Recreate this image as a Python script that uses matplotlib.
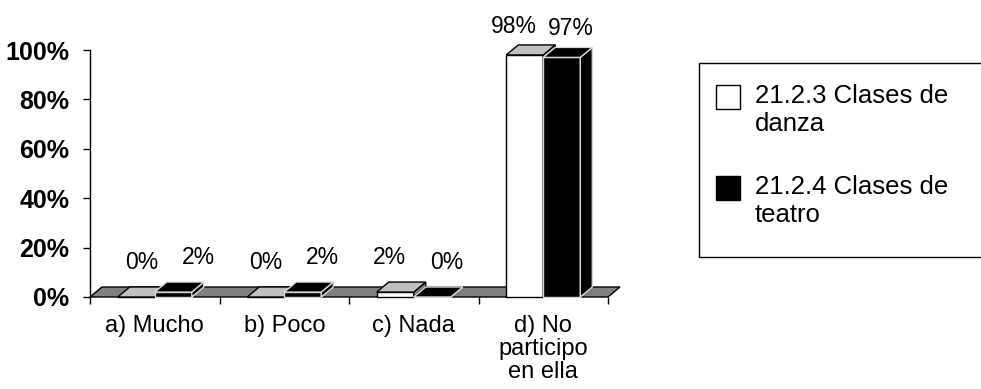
import numpy as np
import matplotlib.pyplot as plt
from matplotlib.patches import Polygon, Rectangle

# datos
categorias = ['a) Mucho', 'b) Poco', 'c) Nada', 'd) No\nparticipo\nen ella']
danza = [0, 0, 2, 98]
teatro = [2, 2, 0, 97]
series = ['21.2.3 Clases de\ndanza', '21.2.4 Clases de\nteatro']
yticks = [0, 20, 40, 60, 80, 100]

plt.rcParams['font.family'] = ['Liberation Sans', 'DejaVu Sans']

W, H = 981, 389
fig = plt.figure(figsize=(W / 100, H / 100), dpi=100)
ax = fig.add_axes([90 / W, 92 / H, 518 / W, 247 / H])
n = len(categorias)
ax.set_xlim(-0.5, n - 0.5)
ax.set_ylim(0, 100)

# profundidad del efecto 3d (en unidades de datos)
dx = 12 / 129.5
dy = 10 / 247 * 100
w = 0.286

# suelo gris
suelo = Polygon([(-0.5, 0), (n - 0.5, 0), (n - 0.5 + dx, dy), (-0.5 + dx, dy)],
                closed=True, fc='#808080', ec='black', lw=1, clip_on=False, zorder=1)
ax.add_patch(suelo)

estilos = [
    dict(vals=danza, off=-w / 2, front='white', top='#c0c0c0', side='#808080', edge='black'),
    dict(vals=teatro, off=w / 2, front='black', top='black', side='black', edge='#d8d8d8'),
]

x = np.arange(n)
z = 2
for i in range(n):
    for s in estilos:
        h = s['vals'][i]
        x0 = x[i] + s['off'] - w / 2
        ax.bar(x[i] + s['off'], h, width=w, color=s['front'], edgecolor=s['edge'],
               lw=1, clip_on=False, zorder=z)
        top = Polygon([(x0, h), (x0 + w, h), (x0 + w + dx, h + dy), (x0 + dx, h + dy)],
                      closed=True, fc=s['top'], ec=s['edge'], lw=1, clip_on=False, zorder=z)
        side = Polygon([(x0 + w, 0), (x0 + w, h), (x0 + w + dx, h + dy), (x0 + w + dx, dy)],
                       closed=True, fc=s['side'], ec=s['edge'], lw=1, clip_on=False, zorder=z)
        ax.add_patch(side)
        ax.add_patch(top)
        z += 1

# etiquetas de valor (excel las separa un poco por la perspectiva)
for i in range(n):
    for k, s in enumerate(estilos):
        h = s['vals'][i]
        lx = 0.12 + 0.958 * i + (-0.22 if k == 0 else 0.22)
        ax.annotate(f'{h}%', (lx, h), xytext=(0, 28 - 6 * h / 100),
                    textcoords='offset pixels', ha='center', va='baseline',
                    fontsize=16.5, annotation_clip=False, zorder=50)

# ejes
for sp in ['top', 'right', 'bottom']:
    ax.spines[sp].set_visible(False)
ax.spines['left'].set_linewidth(1)
ax.set_yticks(yticks)
ax.set_yticklabels([f'{t}%' for t in yticks], fontweight='bold', fontsize=18)
ax.tick_params(axis='y', direction='out', length=5, width=1, pad=10)

ax.set_xticks(np.arange(-0.5, n, 1))
ax.set_xticklabels([])
ax.set_xticks(x, minor=True)
ax.set_xticklabels(categorias, minor=True, fontsize=17, linespacing=1.05)
ax.tick_params(axis='x', which='major', direction='out', length=5, width=1)
ax.tick_params(axis='x', which='minor', length=0, pad=13)

# leyenda dibujada a mano (el marco se sale por la derecha)
def fx(px):
    return px / W

def fy(py):
    return 1 - py / H

fig.patches.append(Rectangle((fx(699), fy(257)), fx(300), 194 / H, transform=fig.transFigure,
                             fc='white', ec='black', lw=1))
ley_colores = ['white', 'black']
ley_y = [97, 188]
for lab, col, yy in zip(series, ley_colores, ley_y):
    fig.patches.append(Rectangle((fx(716), fy(yy + 12)), 24 / W, 24 / H,
                                 transform=fig.transFigure, fc=col, ec='black', lw=1))
    fig.text(fx(755), fy(yy - 13), lab, fontsize=18.5, va='top', ha='left', linespacing=1.2)

fig.savefig('out.png', dpi=100)
